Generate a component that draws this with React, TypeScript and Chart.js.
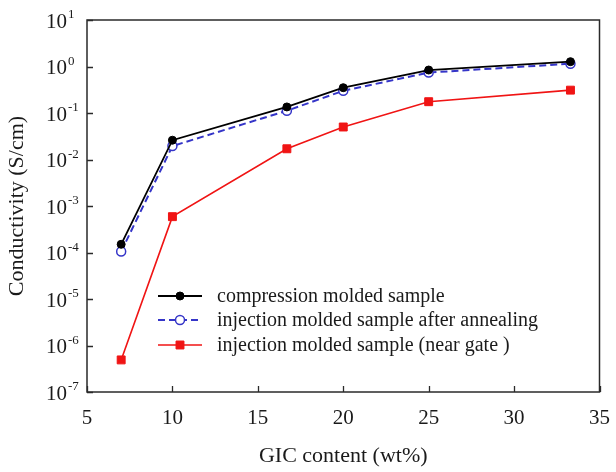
import React, { useEffect, useRef } from "react";
import { Chart, registerables } from "chart.js";

Chart.register(...registerables);

const xValues = [7, 10, 16.7, 20, 25, 33.3];
const compressionMolded = [1.5e-4, 0.026, 0.135, 0.35, 0.84, 1.27];
const injectionAnnealed = [1.05e-4, 0.0195, 0.112, 0.3, 0.74, 1.15];
const injectionNearGate = [4.9e-7, 5.9e-4, 0.017, 0.05, 0.175, 0.31];

const seriesLabels = [
  "compression molded sample",
  "injection molded sample after annealing",
  "injection molded sample (near gate )",
];
const xTicks = [5, 10, 15, 20, 25, 30, 35];
const yExponents = [-7, -6, -5, -4, -3, -2, -1, 0, 1];
const xTitle = "GIC content (wt%)";
const yTitle = "Conductivity (S/cm)";

const FONT = "'Liberation Serif', 'Times New Roman', serif";
const AXIS_COLOR = "#2a2a2a";
const TEXT_COLOR = "#1a1a1a";

const toPoints = (ys: number[]) => xValues.map((x, i) => ({ x, y: ys[i] }));

const decorPlugin = {
  id: "decor",
  afterDatasetsDraw(chart: any) {
    const { ctx, chartArea } = chart;
    const { left, right, top, bottom } = chartArea;
    const xs = chart.scales.x;
    const ys = chart.scales.y;
    ctx.save();
    // frame
    ctx.strokeStyle = AXIS_COLOR;
    ctx.lineWidth = 1.5;
    ctx.strokeRect(left, top, right - left, bottom - top);
    // inward ticks
    ctx.lineWidth = 1.3;
    ctx.beginPath();
    xTicks.forEach((v) => {
      const px = Math.round(xs.getPixelForValue(v)) + 0.5;
      ctx.moveTo(px, bottom);
      ctx.lineTo(px, bottom - 6);
    });
    yExponents.forEach((e) => {
      const py = Math.round(ys.getPixelForValue(Math.pow(10, e))) + 0.5;
      ctx.moveTo(left, py);
      ctx.lineTo(left + 6, py);
    });
    ctx.stroke();
    // y tick labels with superscripts
    ctx.fillStyle = TEXT_COLOR;
    yExponents.forEach((e) => {
      const py = ys.getPixelForValue(Math.pow(10, e));
      ctx.font = `21px ${FONT}`;
      ctx.textAlign = "right";
      ctx.textBaseline = "middle";
      ctx.fillText("10", left - 20, py + 2);
      ctx.font = `13px ${FONT}`;
      ctx.textAlign = "left";
      ctx.fillText(String(e), left - 19, py - 5);
    });
    ctx.restore();
  },
  afterDraw(chart: any) {
    const { ctx, chartArea } = chart;
    const x0 = chartArea.left + 71;
    const x1 = chartArea.left + 115;
    const xm = (x0 + x1) / 2;
    const tx = chartArea.left + 130;
    const rowY = [chartArea.top + 276, chartArea.top + 300, chartArea.top + 325];
    ctx.save();
    chart.data.datasets.forEach((ds: any, i: number) => {
      const y = rowY[i];
      ctx.strokeStyle = ds.borderColor;
      ctx.lineWidth = ds.borderWidth;
      ctx.setLineDash(ds.borderDash || []);
      ctx.beginPath();
      ctx.moveTo(x0, y);
      ctx.lineTo(x1, y);
      ctx.stroke();
      ctx.setLineDash([]);
      ctx.lineWidth = ds.pointBorderWidth;
      ctx.strokeStyle = ds.pointBorderColor;
      ctx.fillStyle = ds.pointBackgroundColor;
      const r = ds.pointRadius;
      ctx.beginPath();
      if (ds.pointStyle === "rect") {
        const s = Math.SQRT1_2 * r;
        ctx.rect(xm - s, y - s, 2 * s, 2 * s);
      } else {
        ctx.arc(xm, y, r, 0, Math.PI * 2);
      }
      ctx.fill();
      ctx.stroke();
      ctx.fillStyle = TEXT_COLOR;
      ctx.font = `20px ${FONT}`;
      ctx.textAlign = "left";
      ctx.textBaseline = "middle";
      ctx.fillText(ds.label, tx, y + 1);
    });
    ctx.restore();
  },
};

export default function App() {
  const canvasRef = useRef<HTMLCanvasElement | null>(null);

  useEffect(() => {
    if (!canvasRef.current) return;
    const chart = new Chart(canvasRef.current, {
      type: "line",
      data: {
        datasets: [
          {
            label: seriesLabels[0],
            data: toPoints(compressionMolded),
            borderColor: "#000000",
            borderWidth: 1.8,
            pointStyle: "circle",
            pointRadius: 4,
            pointBorderWidth: 1,
            pointBorderColor: "#000000",
            pointBackgroundColor: "#000000",
            tension: 0,
          },
          {
            label: seriesLabels[1],
            data: toPoints(injectionAnnealed),
            borderColor: "#3535c8",
            borderWidth: 2,
            borderDash: [7, 4],
            pointStyle: "circle",
            pointRadius: 4.5,
            pointBorderWidth: 1.5,
            pointBorderColor: "#3535c8",
            pointBackgroundColor: "#ffffff",
            tension: 0,
          },
          {
            label: seriesLabels[2],
            data: toPoints(injectionNearGate),
            borderColor: "#f01414",
            borderWidth: 1.6,
            pointStyle: "rect",
            pointRadius: 5.6,
            pointBorderWidth: 1,
            pointBorderColor: "#f01414",
            pointBackgroundColor: "#f01414",
            tension: 0,
          },
        ],
      } as any,
      options: {
        animation: false,
        responsive: true,
        maintainAspectRatio: false,
        layout: { padding: { top: 20, right: 16, left: 0, bottom: 0 } },
        plugins: {
          legend: { display: false },
          tooltip: { enabled: false },
        },
        scales: {
          x: {
            type: "linear",
            min: 5,
            max: 35,
            afterBuildTicks: (scale: any) => {
              scale.ticks = xTicks.map((v) => ({ value: v }));
            },
            afterFit: (scale: any) => {
              scale.height = 80;
            },
            ticks: {
              color: TEXT_COLOR,
              font: { family: FONT, size: 21 },
              padding: 6,
              maxRotation: 0,
            },
            grid: { display: false },
            border: { display: false },
            title: {
              display: true,
              text: xTitle,
              color: TEXT_COLOR,
              font: { family: FONT, size: 22 },
              padding: { top: 0, bottom: 3 },
            },
          },
          y: {
            type: "logarithmic",
            min: 1e-7,
            max: 10,
            afterBuildTicks: (scale: any) => {
              scale.ticks = yExponents.map((e) => ({ value: Math.pow(10, e) }));
            },
            afterFit: (scale: any) => {
              scale.width = 87;
            },
            ticks: { display: false },
            grid: { display: false },
            border: { display: false },
            title: {
              display: true,
              text: yTitle,
              color: TEXT_COLOR,
              font: { family: FONT, size: 22 },
              padding: { top: 4, bottom: 0 },
            },
          },
        },
      } as any,
      plugins: [decorPlugin],
    });
    return () => chart.destroy();
  }, []);

  return (
    <div style={{ position: "absolute", left: 0, top: 0, width: 616, height: 472, background: "#fff" }}>
      <canvas ref={canvasRef} />
    </div>
  );
}
